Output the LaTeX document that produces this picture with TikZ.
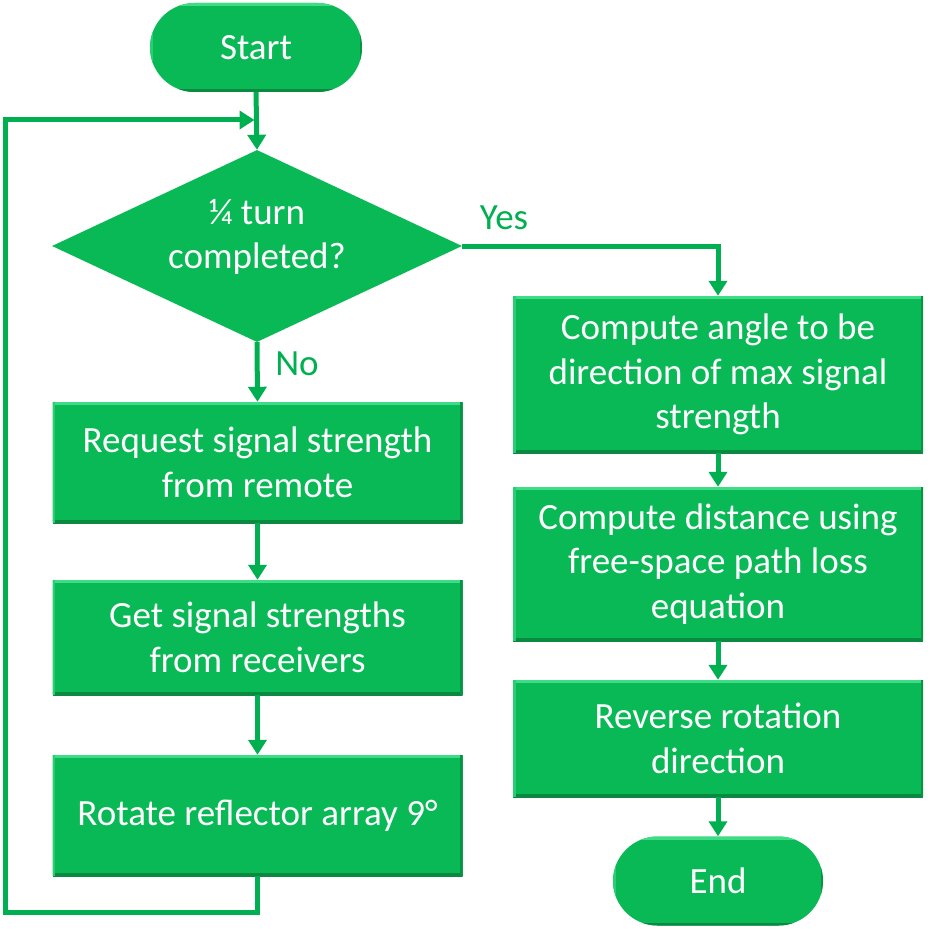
\documentclass[tikz,border=0pt]{standalone}
\usepackage{fontspec}
\setmainfont{Carlito}
\usetikzlibrary{shapes.geometric,shapes.misc,arrows.meta}
\definecolor{boxfill}{HTML}{08B955}
\definecolor{linegreen}{HTML}{00B050}
\definecolor{bevdark}{HTML}{0A8A40}
\definecolor{bevlight}{HTML}{3EDC84}
\begin{document}
\begin{tikzpicture}[x=1pt,y=-1pt,
  bevel/.style={path picture={
    \draw[bevlight,line width=6pt] (path picture bounding box.north west) -- (path picture bounding box.north east);
    \draw[bevdark,line width=6pt] (path picture bounding box.south west) -- (path picture bounding box.south east);
    \draw[bevdark!80!boxfill,line width=5pt] (path picture bounding box.north east) -- (path picture bounding box.south east);
    \draw[bevlight!60!boxfill,line width=5pt] (path picture bounding box.north west) -- (path picture bounding box.south west);}},
  txt/.style={text=white,font=\fontsize{37}{44.5}\selectfont,align=center},
  procbox/.style={txt,rectangle,fill=boxfill,bevel,minimum width=410pt,inner sep=0pt},
  term/.style={txt,rounded rectangle,fill=boxfill,bevel,minimum height=89pt,inner sep=0pt},
  decide/.style={diamond,fill=boxfill,minimum width=410pt,minimum height=192pt,shape aspect=2.135,inner sep=0pt},
  arr/.style={linegreen,line width=5pt,-{Triangle[length=15pt,width=18pt]}},
  lbl/.style={text=linegreen,font=\fontsize{37}{44}\selectfont}]
\useasboundingbox (0,0) rectangle (933,928);
\node[term,minimum width=212pt] (start) at (256,47.5) {Start};
\node[decide,label={[txt,yshift=9pt]center:{¼ turn\\completed?}}] (dia) at (257,246) {};
\node[procbox,minimum height=121pt] (req) at (257.5,462.5) {Request signal strength\\from remote};
\node[procbox,minimum height=115pt] (get) at (257.5,637.5) {Get signal strengths\\from receivers};
\node[procbox,minimum height=121pt] (rot) at (257.5,815.5) {Rotate reflector array 9°};
\node[procbox,minimum height=157pt] (ang) at (718,374.5) {Compute angle to be\\direction of max signal\\strength};
\node[procbox,minimum height=154pt] (dist) at (718,564) {Compute distance using\\free-space path loss\\equation};
\node[procbox,minimum height=117pt] (rev) at (718,738.5) {Reverse rotation\\direction};
\node[term,minimum width=210pt] (end) at (718,881) {End};
\coordinate (j) at (257,120);
\coordinate (lb) at (5,912);
\node[lbl] (yes) at (504,218) {Yes};
\node[lbl] (no) at (297,364) {No};
\draw[arr] (start.south) -- (dia.north);
\draw[arr,shorten >=2.5pt] (rot.south) -- (rot.south |- lb) -- (lb) |- (j);
\draw[arr] (dia.south) -- (req.north);
\draw[arr] (req.south) -- (get.north);
\draw[arr] (get.south) -- (rot.north);
\draw[arr] (dia.east) -| (ang.north);
\draw[arr] (ang.south) -- (dist.north);
\draw[arr] (dist.south) -- (rev.north);
\draw[arr] (rev.south) -- (end.north);
\end{tikzpicture}
\end{document}
